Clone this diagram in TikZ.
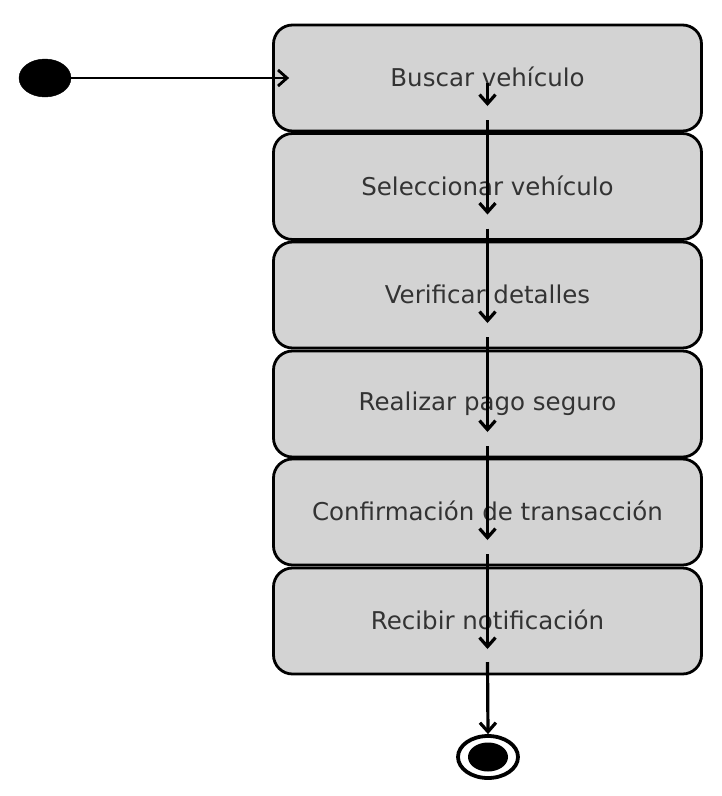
\documentclass[tikz,border=0pt]{standalone}
\usepackage{fontspec}
\setmainfont{DejaVu Sans}
\usetikzlibrary{arrows.meta,shapes.geometric}
\definecolor{boxfill}{HTML}{D3D3D3}
\definecolor{txt}{HTML}{333333}
\newcommand{\lbl}[1]{\raisebox{2pt}{#1}}
\begin{document}
\begin{tikzpicture}[x=1pt,y=-1pt,
  state/.style={draw=black,line width=2.8pt,fill=boxfill,rounded corners=19pt,
    minimum width=428pt,minimum height=106pt,inner sep=0pt,
    font=\fontsize{24.5}{29}\selectfont,text=txt},
  arr/.style={line width=3.2pt,-{Straight Barb[length=9pt,width=16pt,line width=3.2pt]}},
  harr/.style={line width=2.8pt,-{Straight Barb[length=9pt,width=16pt,line width=2.8pt]}}]
\useasboundingbox (0,0) rectangle (722,796);
\node[draw=black,fill=black,ellipse,minimum width=52pt,minimum height=38pt,inner sep=0pt] (init) at (45,78) {};
\node[state] (b1) at (487.5,78) {\lbl{Buscar vehículo}};
\node[state] (b2) at (487.5,186.5) {\lbl{Seleccionar vehículo}};
\node[state] (b3) at (487.5,295) {\lbl{Verificar detalles}};
\node[state] (b4) at (487.5,404) {\lbl{Realizar pago seguro}};
\node[state] (b5) at (487.5,512) {\lbl{Confirmación de transacción}};
\node[state] (b6) at (487.5,621) {\lbl{Recibir notificación}};
\node[draw=black,line width=3.8pt,ellipse,minimum width=60pt,minimum height=42pt,inner sep=0pt] (fin) at (488,757) {};
\node[fill=black,ellipse,minimum width=40pt,minimum height=29pt,inner sep=0pt] (finin) at (fin.center) {};
\draw[harr] (init.east) -- ([xshift=17pt]b1.west);
\draw[arr] ([yshift=-5pt]b1.center) -- ([yshift=-28pt]b1.center);
\draw[arr] ([yshift=-42pt]b1.center) -- ([yshift=-28pt]b2.center);
\draw[arr] ([yshift=-42pt]b2.center) -- ([yshift=-28pt]b3.center);
\draw[arr] ([yshift=-42pt]b3.center) -- ([yshift=-28pt]b4.center);
\draw[arr] ([yshift=-42pt]b4.center) -- ([yshift=-28pt]b5.center);
\draw[arr] ([yshift=-42pt]b5.center) -- ([yshift=-28pt]b6.center);
\draw[arr] ([yshift=-41pt]b6.center) -- (fin.north);
\end{tikzpicture}
\end{document}
